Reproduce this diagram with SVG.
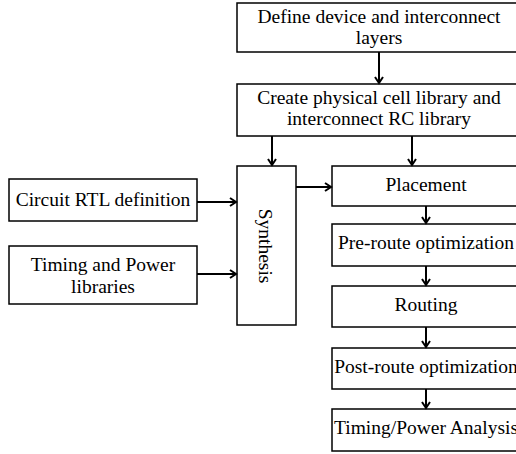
<svg xmlns="http://www.w3.org/2000/svg" width="516" height="454" viewBox="0 0 516 454">
  <style>
    .box { fill: #fff; stroke: #000; stroke-width: 1.5; }
    .lbl { font-family: "Liberation Serif", "Times New Roman", serif; font-size: 19.5px; fill: #000; text-anchor: middle; }
    .wire { stroke: #000; stroke-width: 2; fill: none; marker-end: url(#head); }
  </style>
  <defs>
    <marker id="head" markerWidth="10" markerHeight="10" refX="8" refY="5" orient="auto" markerUnits="userSpaceOnUse">
      <path d="M2,1 L8,5 L2,9" fill="none" stroke="#000" stroke-width="2"/>
    </marker>
  </defs>

  <g id="define">
    <rect class="box" x="237" y="3" width="290" height="49"/>
    <text class="lbl" x="379" y="23">Define device and interconnect</text>
    <text class="lbl" x="379" y="44">layers</text>
  </g>
  <g id="create">
    <rect class="box" x="237" y="84" width="290" height="52"/>
    <text class="lbl" x="379" y="104">Create physical cell library and</text>
    <text class="lbl" x="379" y="125">interconnect RC library</text>
  </g>
  <g id="rtl">
    <rect class="box" x="9" y="179" width="188" height="42"/>
    <text class="lbl" x="103" y="206">Circuit RTL definition</text>
  </g>
  <g id="libs">
    <rect class="box" x="9" y="246" width="188" height="58"/>
    <text class="lbl" x="103" y="271">Timing and Power</text>
    <text class="lbl" x="103" y="293">libraries</text>
  </g>
  <g id="synthesis">
    <rect class="box" x="237" y="166" width="59" height="159"/>
    <text class="lbl" transform="translate(259 246) rotate(90)">Synthesis</text>
  </g>
  <g id="placement">
    <rect class="box" x="332" y="166" width="195" height="40"/>
    <text class="lbl" x="426" y="191">Placement</text>
  </g>
  <g id="preroute">
    <rect class="box" x="332" y="224" width="195" height="42"/>
    <text class="lbl" x="426" y="249">Pre-route optimization</text>
  </g>
  <g id="routing">
    <rect class="box" x="332" y="286" width="195" height="41"/>
    <text class="lbl" x="426" y="311">Routing</text>
  </g>
  <g id="postroute">
    <rect class="box" x="332" y="348" width="195" height="41"/>
    <text class="lbl" x="426" y="373">Post-route optimization</text>
  </g>
  <g id="analysis">
    <rect class="box" x="332" y="409" width="195" height="42"/>
    <text class="lbl" x="426" y="434">Timing/Power Analysis</text>
  </g>

  <g id="connectors">
    <line class="wire" x1="379" y1="52" x2="379" y2="83"/>
    <line class="wire" x1="272" y1="136" x2="272" y2="165"/>
    <line class="wire" x1="412" y1="136" x2="412" y2="165"/>
    <line class="wire" x1="197" y1="202" x2="236" y2="202"/>
    <line class="wire" x1="197" y1="274" x2="236" y2="274"/>
    <line class="wire" x1="296" y1="187" x2="331" y2="187"/>
    <line class="wire" x1="426" y1="206" x2="426" y2="223"/>
    <line class="wire" x1="426" y1="266" x2="426" y2="285"/>
    <line class="wire" x1="426" y1="327" x2="426" y2="347"/>
    <line class="wire" x1="426" y1="389" x2="426" y2="408"/>
  </g>
</svg>
